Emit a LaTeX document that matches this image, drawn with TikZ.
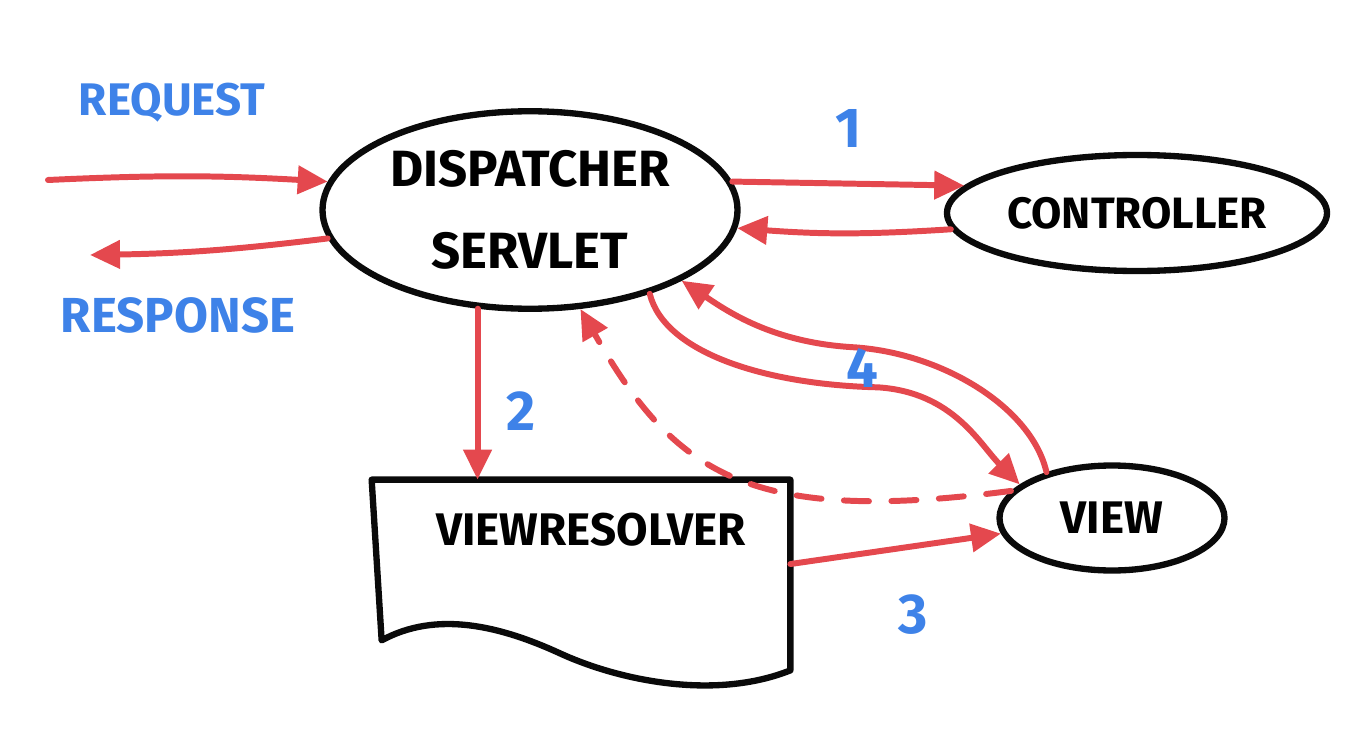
\documentclass[tikz,border=0pt]{standalone}
\usepackage{fontspec}
\setmainfont{Fira Sans}
\usepackage{xcolor}
\definecolor{vermelho}{RGB}{228,72,78}
\definecolor{azul}{RGB}{62,130,232}
\definecolor{preto}{RGB}{10,10,10}
\usepackage{tikz}
\usetikzlibrary{arrows.meta,shapes.geometric,positioning,calc}

\begin{document}
\begin{tikzpicture}[
            bolha/.style={ellipse,draw=preto,line width=3.6pt,inner sep=0pt,
            font=\bfseries\fontsize{26}{46}\selectfont,align=center},
            contorno/.style={draw=preto,line width=3.6pt,line join=round},
            seta/.style={-{Triangle[length=0.6cm,width=0.55cm]},vermelho,
            line width=3.4pt,line cap=round},
            rotulo/.style={text=azul,font=\bfseries\fontsize{26}{30}\selectfont},
            numero/.style={text=azul,font=\bfseries\fontsize{32}{36}\selectfont}
            ]
            \useasboundingbox (0,0) rectangle (27.24,-14.78);

            \node[bolha,minimum width=8.3cm,minimum height=3.95cm,
            font=\bfseries\fontsize{29}{47}\selectfont] (disp) at (10.6,-4.2)
            {DISPATCHER\\SERVLET};
            \node[bolha,minimum width=7.6cm,minimum height=2.32cm,
            font=\bfseries\fontsize{25}{30}\selectfont] (ctrl) at (22.74,-4.26) {CONTROLLER};
            \node[bolha,minimum width=4.5cm,minimum height=2.1cm] (view) at (22.24,-10.36) {VIEW};
            \node[minimum width=8.36cm,minimum height=3.8cm] (vr) at (11.62,-11.5) {};
            \node[font=\bfseries\fontsize{26}{30}\selectfont]
            (vrtxt) at ($(vr.north)+(0.2,-1.0)$) {VIEWRESOLVER};

            % folha do view resolver
            \draw[contorno] (vr.north west) -- (vr.north east) -- (vr.south east)
            .. controls +(-1.5,-0.6) and +(1.2,-0.55) .. ($(vr.south)+(-0.42,0.34)$)
            .. controls +(-1.2,0.55) and +(1.1,0.6) .. ($(vr.south west)+(0.2,0.6)$)
            -- cycle;

            \coordinate (req) at (0.96,-3.6);
            \coordinate (resp) at (1.8,-5.1);
            \node[rotulo] (lreq) at (3.44,-2.06) {REQUEST};
            \node[rotulo,font=\bfseries\fontsize{28}{30}\selectfont] (lresp) at (3.56,-6.3) {RESPONSE};

            \draw[seta] (req) to[bend left=3] (disp.172);
            \draw[seta] (disp.188) to[bend left=3] (resp);

            \draw[seta] (disp.8) -- node[numero,above=0.55cm] (n1) {1} (ctrl.171);
            \draw[seta] (ctrl.185) to[bend left=4] (disp.-5);

            \draw[seta] (disp.242) -- node[numero,right=0.4cm,pos=0.6] (n2) {2} (disp.242 |- vr.north);
            \draw[seta] (vr.3) -- node[numero,below=0.75cm,xshift=0.35cm] (n3) {3} (view.188);

            \draw[seta,dashed,dash pattern=on 0.5cm off 0.45cm] (view.165)
            .. controls (15,-10.5) and (13.5,-9.5) .. (disp.297);

            \draw[seta] (disp.325) .. controls +(0.3,-1.2) and +(-2.2,0.05) .. ++(4.57,-1.87)
            .. controls +(1.5,-0.1) and +(-0.8,0.8) .. (view.160);
            \draw[seta] (view.145) .. controls +(-0.3,1.3) and +(1.8,-0.1) .. ++(-3.9,2.5)
            .. controls +(-1.6,0.1) and +(0.9,-0.6) .. (disp.335);
            \node[numero] (n4) at (17.24,-7.36) {4};
          \end{tikzpicture}
\end{document}
